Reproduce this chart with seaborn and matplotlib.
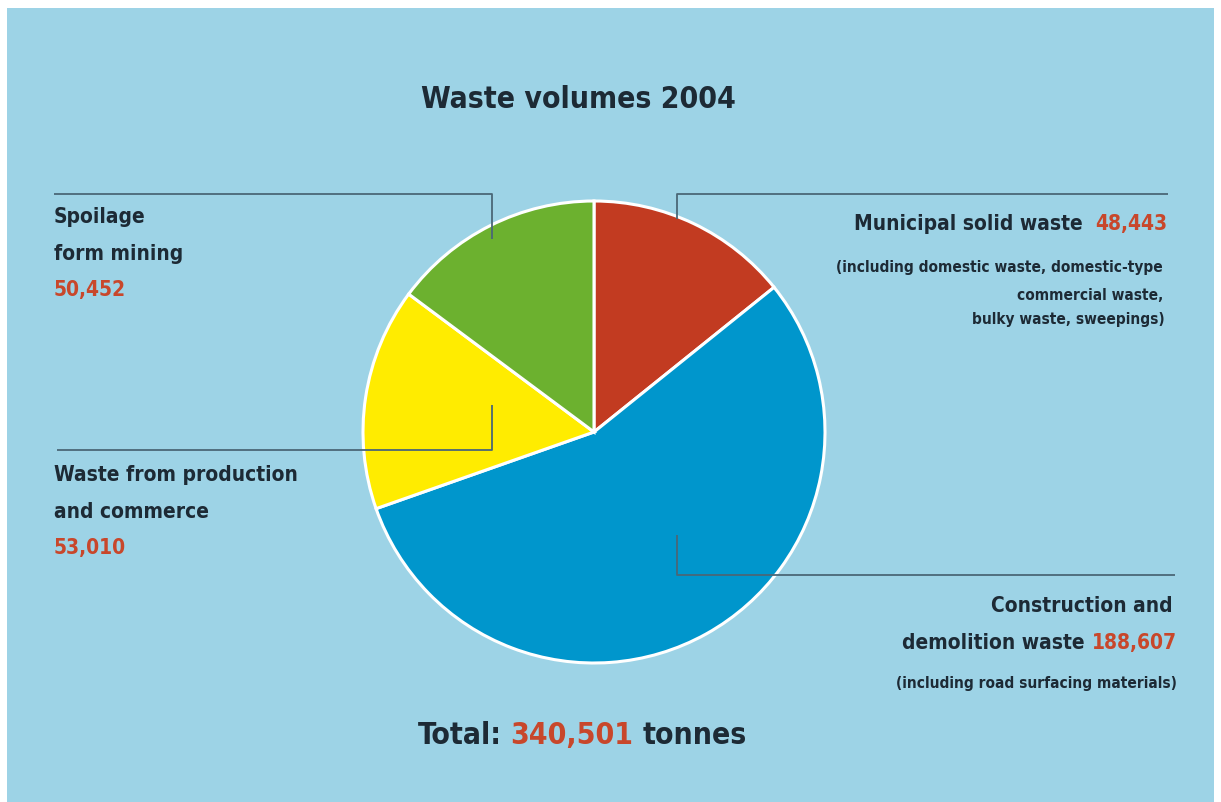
import matplotlib
matplotlib.use("Agg")
import matplotlib.pyplot as plt
import seaborn as sns
from matplotlib.patches import Rectangle

# Waste volumes in tonnes, 2004 (slices drawn clockwise from 12 o'clock)
categories = [
    "Municipal solid waste",
    "Construction and demolition waste",
    "Waste from production and commerce",
    "Spoilage form mining",
]
tonnes = [48443, 188607, 53010, 50452]
total_tonnes = 340501
slice_colors = ["#c23b21", "#0096cc", "#ffec00", "#6cb12f"]

TEXT = "#1d2a35"
NUM = "#c8472b"
LEAD = "#4a6777"
PANEL = "#9dd3e6"

sns.set_theme(style="white")
plt.rcParams["font.family"] = ["DejaVu Sans"]
plt.rcParams["font.stretch"] = "condensed"

W, H = 1221, 803
fig = plt.figure(figsize=(W / 100, H / 100), dpi=100)
fig.patch.set_facecolor("white")
ax = fig.add_axes([0, 0, 1, 1])

# light-blue panel
ax.add_patch(Rectangle((7, 9), 1207, 800, facecolor=PANEL, edgecolor="none", zorder=0))

# pie: axis is in pixel units with y pointing down
ax.pie(
    tonnes,
    colors=slice_colors,
    center=(594, 433),
    radius=231,
    startangle=-90,
    counterclock=True,
    wedgeprops=dict(edgecolor="white", linewidth=2.2),
)
ax.set_xlim(0, W)
ax.set_ylim(H, 0)
ax.set_aspect("auto")
ax.axis("off")

# leader lines
lead_kw = dict(color=LEAD, lw=1.3, solid_capstyle="butt", zorder=5)
ax.plot([54, 492, 492], [195, 195, 240], **lead_kw)
ax.plot([57, 492, 492], [451, 451, 406], **lead_kw)
ax.plot([1168, 677, 677], [195, 195, 220], **lead_kw)
ax.plot([1175, 677, 677], [576, 576, 536], **lead_kw)

renderer = fig.canvas.get_renderer()


def width_of(s, size):
    t = ax.text(0, 0, s, fontsize=size, fontweight="bold")
    w = t.get_window_extent(renderer=renderer).width
    t.remove()
    return w


def fit_size(s, target_px, base=20.0):
    """Font size at which the string spans target_px."""
    return base * target_px / width_of(s, base)


def runs(x, y, pieces, size, ha="left", gap=0):
    """Draw a row of differently coloured text pieces side by side."""
    arts = [ax.text(0, y, s, color=c, fontsize=size, fontweight="bold",
                    va="center", ha="left", zorder=6) for s, c in pieces]
    widths = [a.get_window_extent(renderer=renderer).width for a in arts]
    total = sum(widths) + gap * (len(arts) - 1)
    start = {"left": x, "right": x - total, "center": x - total / 2}[ha]
    for a, w in zip(arts, widths):
        a.set_x(start)
        start += w + gap


BIG = min(fit_size("Waste volumes 2004", 316), 28)
LBL = min(fit_size("Waste from production", 244), 19)
SMALL = min(fit_size("(including domestic waste, domestic-type", 326), 12.5)

# title
runs(578, 100, [("Waste volumes 2004", TEXT)], BIG, ha="center")

# left labels
runs(54, 217, [("Spoilage", TEXT)], LBL)
runs(54, 254, [("form mining", TEXT)], LBL)
runs(54, 290, [(f"{tonnes[3]:,}", NUM)], LBL)

runs(54, 475, [("Waste from production", TEXT)], LBL)
runs(54, 512, [("and commerce", TEXT)], LBL)
runs(54, 548, [(f"{tonnes[2]:,}", NUM)], LBL)

# right labels
runs(1167, 224, [("Municipal solid waste", TEXT), (f"{tonnes[0]:,}", NUM)], LBL, ha="right", gap=12)
runs(1163, 268, [("(including domestic waste, domestic-type", TEXT)], SMALL, ha="right")
runs(1163, 296, [("commercial waste,", TEXT)], SMALL, ha="right")
runs(1165, 320, [("bulky waste, sweepings)", TEXT)], SMALL, ha="right")

runs(1173, 606, [("Construction and", TEXT)], LBL, ha="right")
runs(1177, 643, [("demolition waste", TEXT), (f"{tonnes[1]:,}", NUM)], LBL, ha="right", gap=7)
runs(1177, 684, [("(including road surfacing materials)", TEXT)], SMALL, ha="right")

# total
runs(582, 736, [("Total:", TEXT), (f"{total_tonnes:,}", NUM), ("tonnes", TEXT)], BIG, ha="center", gap=9)

fig.savefig("out.png", dpi=100, facecolor=fig.get_facecolor())
